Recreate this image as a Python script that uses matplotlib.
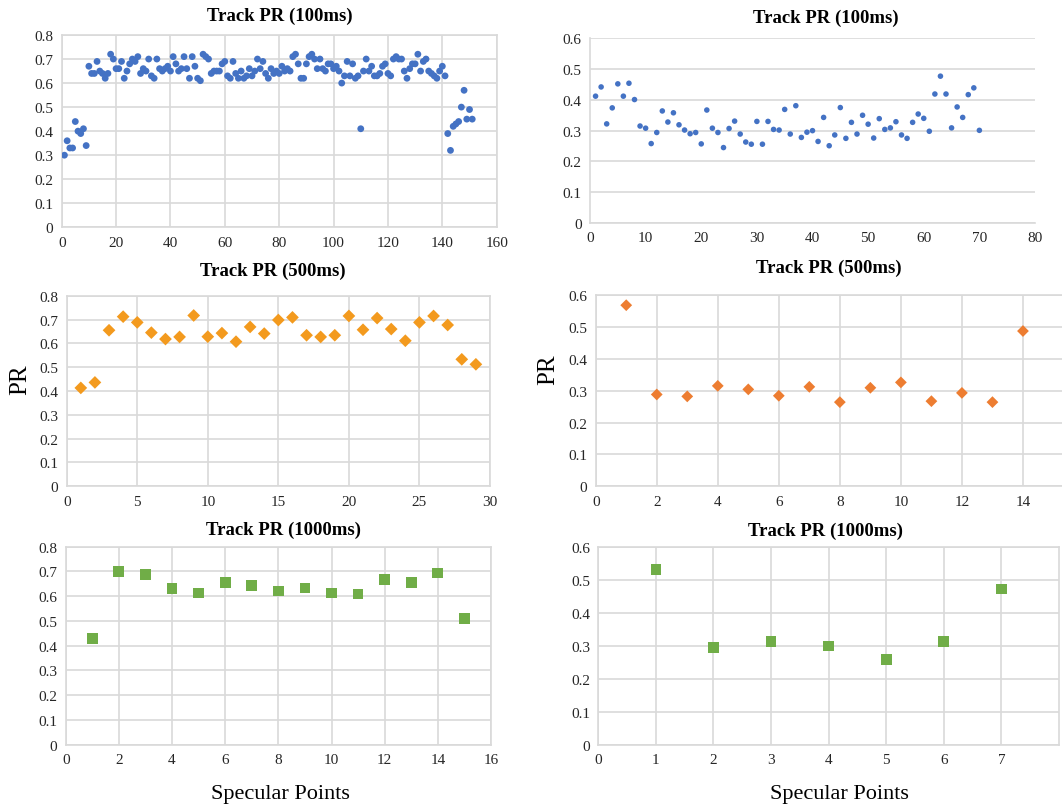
import matplotlib
matplotlib.use("Agg")
import matplotlib.pyplot as plt
import numpy as np

plt.rcParams['font.family'] = ['Liberation Serif', 'DejaVu Serif']

# ---------------- data ----------------
pr100_left = [0.30, 0.36, 0.33, 0.33, 0.44, 0.40, 0.39, 0.41, 0.34, 0.67,
              0.64, 0.64, 0.69, 0.65, 0.64, 0.62, 0.64, 0.72, 0.70, 0.66,
              0.66, 0.69, 0.62, 0.65, 0.68, 0.70, 0.69, 0.71, 0.64, 0.66,
              0.65, 0.70, 0.63, 0.62, 0.70, 0.66, 0.65, 0.66, 0.67, 0.65,
              0.71, 0.68, 0.65, 0.66, 0.71, 0.66, 0.62, 0.71, 0.67, 0.62,
              0.61, 0.72, 0.71, 0.70, 0.64, 0.65, 0.65, 0.65, 0.68, 0.69,
              0.63, 0.62, 0.69, 0.64, 0.62, 0.65, 0.62, 0.63, 0.66, 0.63,
              0.65, 0.70, 0.66, 0.69, 0.64, 0.62, 0.66, 0.64, 0.65, 0.64,
              0.67, 0.65, 0.66, 0.65, 0.71, 0.72, 0.68, 0.62, 0.62, 0.68,
              0.71, 0.72, 0.70, 0.66, 0.70, 0.66, 0.65, 0.68, 0.68, 0.66,
              0.67, 0.65, 0.60, 0.63, 0.69, 0.63, 0.68, 0.62, 0.63, 0.41,
              0.65, 0.70, 0.65, 0.67, 0.63, 0.63, 0.64, 0.67, 0.68, 0.64,
              0.63, 0.70, 0.71, 0.70, 0.70, 0.65, 0.62, 0.66, 0.68, 0.68,
              0.72, 0.65, 0.69, 0.70, 0.65, 0.64, 0.63, 0.62, 0.65, 0.67,
              0.63, 0.39, 0.32, 0.42, 0.43, 0.44, 0.50, 0.57, 0.45, 0.49,
              0.45]
x100_left = list(range(1, len(pr100_left) + 1))

pr100_right = [0.412, 0.442, 0.322, 0.374, 0.452, 0.412, 0.454, 0.401, 0.315, 0.308,
               0.258, 0.294, 0.364, 0.328, 0.358, 0.319, 0.302, 0.290, 0.294, 0.257,
               0.367, 0.308, 0.294, 0.245, 0.307, 0.331, 0.289, 0.263, 0.256, 0.330,
               0.256, 0.330, 0.304, 0.302, 0.369, 0.289, 0.381, 0.278, 0.295, 0.300,
               0.265, 0.343, 0.251, 0.286, 0.375, 0.275, 0.327, 0.289, 0.350, 0.321,
               0.276, 0.339, 0.304, 0.309, 0.329, 0.286, 0.275, 0.327, 0.354, 0.340,
               0.298, 0.419, 0.477, 0.419, 0.309, 0.377, 0.343, 0.417, 0.439, 0.301]
x100_right = list(range(1, len(pr100_right) + 1))

pr500_left = [0.413, 0.436, 0.655, 0.712, 0.688, 0.645, 0.618, 0.627, 0.717, 0.628,
              0.643, 0.607, 0.669, 0.641, 0.698, 0.709, 0.634, 0.627, 0.634, 0.715,
              0.657, 0.706, 0.660, 0.611, 0.688, 0.715, 0.677, 0.533, 0.512]
x500_left = list(range(1, len(pr500_left) + 1))

pr500_right = [0.568, 0.288, 0.282, 0.315, 0.304, 0.284, 0.312, 0.264, 0.309, 0.326,
               0.267, 0.293, 0.264, 0.487]
x500_right = list(range(1, len(pr500_right) + 1))

pr1000_left = [0.430, 0.700, 0.688, 0.630, 0.613, 0.655, 0.644, 0.621, 0.633, 0.613,
               0.609, 0.667, 0.655, 0.694, 0.510]
x1000_left = list(range(1, len(pr1000_left) + 1))

pr1000_right = [0.532, 0.295, 0.312, 0.299, 0.258, 0.312, 0.472]
x1000_right = list(range(1, len(pr1000_right) + 1))

# ---------------- layout helpers ----------------
W, H = 1062, 812
fig = plt.figure(figsize=(W / 100, H / 100), dpi=100)
fig.patch.set_facecolor('white')

GRID = '#d9d9d9'


def add_ax(x0, x1, ytop, ybot):
    return fig.add_axes([x0 / W, 1 - ybot / H, (x1 - x0) / W, (ybot - ytop) / H])


def style(ax, xlim, xstep, ylim, ystep, vgrid=True, box=True, xticks=None):
    ax.set_xlim(*xlim)
    ax.set_ylim(*ylim)
    if xticks is None:
        xticks = np.arange(xlim[0], xlim[1] + 0.001, xstep)
    ax.set_xticks(xticks)
    ax.set_xticklabels([f"{int(round(v))}" for v in xticks])
    yt = np.arange(ylim[0], ylim[1] + 0.0001, ystep)
    ax.set_yticks(yt)
    ax.set_yticklabels(["0" if abs(v) < 1e-9 else f"{v:.1f}" for v in yt])
    ax.tick_params(length=0, labelsize=11, pad=6, colors='#262626')
    ax.grid(True, axis='y', color=GRID, lw=1.2)
    if vgrid:
        ax.grid(True, axis='x', color=GRID, lw=1.2)
    ax.set_axisbelow(True)
    for s in ax.spines.values():
        s.set_color(GRID)
        s.set_linewidth(1.2)
    if not box:
        ax.spines['top'].set_visible(False)
        ax.spines['right'].set_visible(False)


def ptitle(x, y, text):
    fig.text(x / W, 1 - y / H, text, ha='center', va='center',
             fontsize=13.5, fontweight='bold')


# ---------------- top-left ----------------
ax1 = add_ax(61.7, 496.7, 36, 228.3)
style(ax1, (0, 160), 20, (0, 0.8), 0.1)
ax1.scatter(x100_left, pr100_left, s=24, color='#4472C4', edgecolors='none', zorder=3)
ptitle(280, 16, 'Track PR (100ms)')

# ---------------- top-right ----------------
ax2 = add_ax(590, 1035, 39.3, 224)
style(ax2, (0, 80), 10, (0, 0.6), 0.1, vgrid=False, box=False)
ax2.scatter(x100_right, pr100_right, s=16, color='#4472C4', edgecolors='none', zorder=3)
ptitle(826, 18, 'Track PR (100ms)')

# ---------------- middle-left ----------------
ax3 = add_ax(66.7, 490, 296.7, 487.3)
style(ax3, (0, 30), 5, (0, 0.8), 0.1)
ax3.scatter(x500_left, pr500_left, s=42, marker='D', color='#F39A1E', edgecolors='none', zorder=3)
ptitle(273, 271, 'Track PR (500ms)')
fig.text(20 / W, 1 - 380 / H, 'PR', rotation=90, ha='center', va='center', fontsize=18)

# ---------------- middle-right ----------------
ax4 = add_ax(595.7, 1084, 296, 487.3)
style(ax4, (0, 16), 2, (0, 0.6), 0.1, xticks=list(range(0, 15, 2)))
ax4.scatter(x500_right, pr500_right, s=36, marker='D', color='#ED7D31', edgecolors='none', zorder=3)
ptitle(829, 268, 'Track PR (500ms)')
fig.text(548 / W, 1 - 370 / H, 'PR', rotation=90, ha='center', va='center', fontsize=18)

# ---------------- bottom-left ----------------
ax5 = add_ax(65.7, 491, 547.7, 745.7)
style(ax5, (0, 16), 2, (0, 0.8), 0.1)
ax5.scatter(x1000_left, pr1000_left, s=60, marker='s', color='#70AD47', edgecolors='none', zorder=3)
ptitle(283, 530, 'Track PR (1000ms)')
fig.text(280 / W, 1 - 795 / H, 'Specular Points', ha='center', va='center', fontsize=16)

# ---------------- bottom-right ----------------
ax6 = add_ax(598.3, 1059, 547.7, 745.7)
style(ax6, (0, 8), 1, (0, 0.6), 0.1, xticks=list(range(0, 8)))
ax6.scatter(x1000_right, pr1000_right, s=60, marker='s', color='#70AD47', edgecolors='none', zorder=3)
ptitle(825, 531, 'Track PR (1000ms)')
fig.text(839 / W, 1 - 795 / H, 'Specular Points', ha='center', va='center', fontsize=16)

fig.savefig('out.png', dpi=100, facecolor='white')
